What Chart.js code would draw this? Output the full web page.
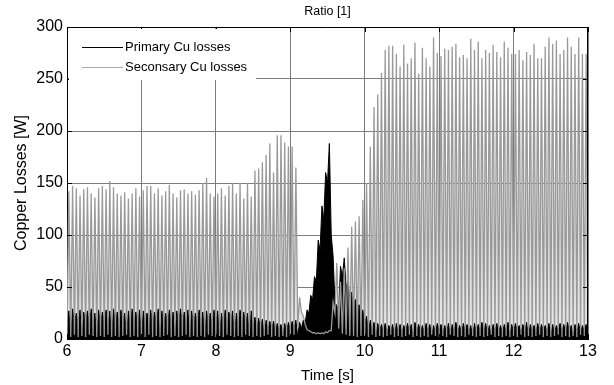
<!DOCTYPE html>
<html>
<head>
<meta charset="utf-8">
<script src="https://cdn.jsdelivr.net/npm/chart.js@4/dist/chart.umd.min.js"></script>
<style>
  html, body { margin: 0; padding: 0; background: #fff; }
  #wrap { width: 614px; height: 385px; }
</style>
</head>
<body>
<div id="wrap"><canvas id="grafica"></canvas></div>
<script>
// time axis: one oscillation every 0.05 s, a low point then a high point
const tStart = 6;
const ciclo = 0.05;
const xTicks = [6, 7, 8, 9, 10, 11, 12, 13];
const yTicks = [0, 50, 100, 150, 200, 250, 300];

// secondary (grey) losses, peak of each cycle
const grisPicos = [
  142, 147, 145, 138, 144, 146, 140, 136, 145, 147, 144, 152, 146, 140, 138, 141, 135, 140, 145, 137,
  143, 147, 147, 140, 145, 138, 142, 148, 140, 136, 143, 144, 140, 142, 139, 143, 150, 155, 140, 137,
  140, 145, 138, 147, 150, 140, 150, 135, 150, 137, 162, 164, 170, 177, 188, 160, 196, 196, 189, 185,
  185, 165, 40, 22, 9, 7, 6, 6, 6, 7, 8, 35, 73, 55, 68, 88, 108, 113, 118, 134,
  150, 185, 223, 235, 256, 278, 282, 282, 274, 262, 283, 265, 270, 285, 255, 280, 270, 262, 290, 275,
  272, 279, 278, 281, 284, 271, 273, 270, 289, 278, 286, 270, 278, 275, 283, 276, 271, 286, 280, 274,
  274, 278, 268, 276, 273, 284, 270, 270, 281, 290, 284, 287, 274, 278, 290, 281, 274, 290, 274, 274
];
// secondary losses, low point at the start of each cycle
const grisValles = [
  3, 2, 4, 2, 3, 2, 4, 3, 2, 3, 2, 4, 2, 3, 2, 3, 4, 2, 3, 2,
  3, 2, 4, 2, 3, 2, 3, 4, 2, 3, 2, 3, 4, 2, 3, 2, 3, 2, 4, 3,
  2, 3, 2, 4, 3, 2, 3, 2, 4, 3, 2, 3, 2, 3, 4, 2, 3, 2, 3, 2,
  3, 4, 12, 26, 14, 8, 6, 5, 5, 5, 6, 8, 25, 10, 5, 4, 3, 3, 2, 3,
  3, 2, 4, 2, 3, 2, 3, 4, 2, 3, 2, 3, 4, 2, 3, 2, 3, 2, 4, 3,
  2, 3, 2, 4, 3, 2, 3, 2, 4, 3, 2, 3, 2, 3, 4, 2, 3, 2, 3, 2,
  3, 2, 4, 2, 3, 2, 3, 4, 2, 3, 2, 3, 4, 2, 3, 2, 3, 2, 4, 3, 2
];

// primary (black) losses
const negroPicos = [
  27, 29, 25, 28, 26, 27, 29, 25, 28, 26, 28, 27, 29, 26, 28, 25, 27, 29, 26, 28,
  27, 25, 28, 26, 29, 27, 25, 28, 26, 27, 29, 26, 28, 27, 25, 28, 26, 27, 25, 28,
  27, 25, 28, 26, 27, 25, 28, 26, 25, 27, 21, 20, 19, 18, 17, 17, 15, 14, 15, 16,
  17, 18, 16, 18, 28, 42, 60, 95, 128, 160, 188, 80, 32, 70, 78, 55, 45, 38, 33, 28,
  22, 18, 16, 15, 14, 15, 13, 14, 15, 14, 13, 15, 14, 16, 14, 13, 15, 14, 13, 15,
  14, 13, 15, 14, 16, 13, 15, 14, 13, 15, 14, 16, 15, 13, 14, 15, 13, 14, 16, 14,
  15, 13, 14, 16, 14, 13, 15, 14, 13, 15, 14, 13, 15, 14, 16, 13, 14, 15, 13, 14
];
const negroValles = [
  14, 3, 16, 15, 2, 17, 14, 16, 3, 15, 17, 14, 2, 16, 15, 17, 3, 14, 16, 15,
  2, 16, 15, 14, 17, 3, 15, 16, 14, 2, 17, 15, 16, 3, 14, 16, 15, 2, 17, 14,
  16, 3, 15, 14, 17, 2, 15, 16, 14, 3, 12, 10, 11, 2, 9, 10, 8, 9, 2, 8,
  9, 10, 2, 10, 15, 25, 38, 55, 85, 115, 150, 100, 35, 28, 60, 50, 38, 32, 28, 22,
  16, 8, 7, 2, 8, 7, 6, 8, 2, 7, 6, 8, 7, 2, 8, 7, 6, 8, 2, 7,
  8, 6, 7, 2, 8, 7, 6, 8, 7, 2, 6, 8, 7, 6, 2, 8, 7, 6, 8, 2,
  7, 8, 6, 7, 2, 8, 7, 6, 8, 7, 2, 6, 8, 7, 6, 8, 2, 7, 6, 8, 7
];

const etiquetas = ["Primary Cu losses", "Seconsary Cu losses"];
const FUENTE = "'Liberation Sans', Arial, Helvetica, sans-serif";

let armaPuntos = (picos, valles) => {
  const puntos = [];
  valles.forEach((bajo, i) => {
    puntos.push({ x: tStart + i * ciclo, y: bajo });
    if (i < picos.length) puntos.push({ x: tStart + i * ciclo + ciclo / 2, y: picos[i] });
  });
  return puntos;
};

const puntosGris = armaPuntos(grisPicos, grisValles);
const puntosNegro = armaPuntos(negroPicos, negroValles);

// box, inner ticks, legend and title like the matlab figure
const extras = {
  id: "extras",
  afterDraw(chart) {
    const ctx = chart.ctx;
    const a = chart.chartArea;
    const sx = chart.scales.x, sy = chart.scales.y;
    ctx.save();
    ctx.strokeStyle = "#000";
    ctx.lineWidth = 1;
    ctx.beginPath();
    ctx.moveTo(a.left, a.top + 0.5); ctx.lineTo(a.right, a.top + 0.5);
    ctx.moveTo(a.right - 0.5, a.top); ctx.lineTo(a.right - 0.5, a.bottom);
    xTicks.forEach(t => {
      const px = Math.round(sx.getPixelForValue(t)) + 0.5;
      ctx.moveTo(px, a.bottom); ctx.lineTo(px, a.bottom - 5);
      ctx.moveTo(px, a.top); ctx.lineTo(px, a.top + 5);
    });
    yTicks.forEach(v => {
      const py = Math.round(sy.getPixelForValue(v)) + 0.5;
      ctx.moveTo(a.left, py); ctx.lineTo(a.left + 5, py);
      ctx.moveTo(a.right, py); ctx.lineTo(a.right - 5, py);
    });
    ctx.stroke();

    // legend
    ctx.fillStyle = "#fff";
    ctx.fillRect(a.left + 2, a.top + 2, 187, 51);
    ctx.lineWidth = 1;
    ctx.strokeStyle = "#000";
    ctx.beginPath(); ctx.moveTo(82, 47.5); ctx.lineTo(123, 47.5); ctx.stroke();
    ctx.strokeStyle = "#a8a8a8";
    ctx.beginPath(); ctx.moveTo(82, 67.5); ctx.lineTo(123, 67.5); ctx.stroke();
    ctx.fillStyle = "#000";
    ctx.font = "13px " + FUENTE;
    ctx.textBaseline = "middle";
    ctx.textAlign = "left";
    ctx.fillText(etiquetas[0], 125, 47);
    ctx.fillText(etiquetas[1], 125, 67);

    // title
    ctx.font = "12.5px " + FUENTE;
    ctx.textAlign = "center";
    ctx.fillText("Ratio [1]", (a.left + a.right) / 2, 12);
    ctx.restore();
  }
};

const config = {
  type: "line",
  data: {
    datasets: [
      {
        label: "relleno",
        data: puntosGris,
        borderWidth: 0,
        borderColor: "rgba(0,0,0,0)",
        backgroundColor: "#e4e4e4",
        fill: "origin",
        pointRadius: 0,
        order: 3
      },
      {
        label: etiquetas[0],
        data: puntosNegro,
        borderColor: "#000",
        backgroundColor: "#000",
        borderWidth: 1,
        fill: "origin",
        pointRadius: 0,
        order: 2
      },
      {
        label: etiquetas[1],
        data: puntosGris,
        borderColor: "#999",
        borderWidth: 1.3,
        fill: false,
        pointRadius: 0,
        order: 1
      }
    ]
  },
  options: {
    responsive: false,
    animation: false,
    layout: { padding: { top: 27, right: 26, left: 0, bottom: 0 } },
    plugins: {
      legend: { display: false },
      title: { display: false },
      tooltip: { enabled: false }
    },
    elements: { line: { tension: 0 } },
    scales: {
      x: {
        type: "linear",
        min: 6,
        max: 13,
        afterFit: s => { s.height = 46; },
        afterBuildTicks: s => { s.ticks = xTicks.map(v => ({ value: v })); },
        ticks: { color: "#000", font: { size: 16, family: FUENTE }, padding: 3, maxRotation: 0 },
        grid: { color: "#7c7c7c", drawTicks: false },
        border: { color: "#000", width: 1 },
        title: { display: true, text: "Time [s]", color: "#000", font: { size: 15, family: FUENTE }, padding: { top: 2, bottom: 0 } }
      },
      y: {
        min: 0,
        max: 300,
        afterFit: s => { s.width = 67; },
        afterBuildTicks: s => { s.ticks = yTicks.map(v => ({ value: v })); },
        ticks: { color: "#000", font: { size: 16, family: FUENTE }, padding: 4 },
        grid: { color: "#7c7c7c", drawTicks: false },
        border: { color: "#000", width: 1 },
        title: { display: true, text: "Copper Losses [W]", color: "#000", font: { size: 16, family: FUENTE }, padding: { top: 12, bottom: 0 } }
      }
    }
  },
  plugins: [extras]
};

const lienzo = document.getElementById("grafica");
lienzo.width = 614;
lienzo.height = 385;
window.grafica = new Chart(lienzo, config);
</script>
</body>
</html>
